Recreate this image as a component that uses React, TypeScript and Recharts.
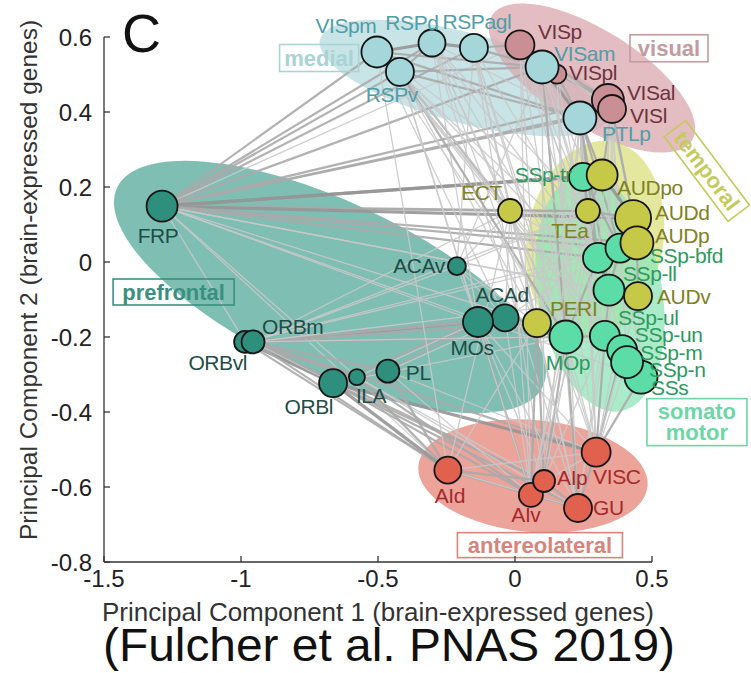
import React from "react";
import {
  ScatterChart,
  Scatter,
  XAxis,
  YAxis,
  ReferenceArea,
  ReferenceLine,
  ReferenceDot,
} from "recharts";

// Cortical areas in drawing order (later ones are drawn on top)
const regions = [
  "FRP", "ACAv", "ORBvl", "ORBm", "ILA", "ORBl", "PL", "ACAd", "MOs",
  "SSp-tr", "SSp-ll", "SSp-bfd", "SSp-ul", "MOp", "SSp-un", "SSs", "SSp-m", "SSp-n",
  "ECT", "TEa", "AUDpo", "AUDd", "AUDp", "AUDv", "PERI",
  "VISp", "VISpl", "VISal", "VISl",
  "RSPv", "VISpm", "RSPd", "RSPagl", "VISam", "PTLp",
  "AId", "AIv", "AIp", "VISC", "GU",
];

const regionGroup = [
  "prefrontal", "prefrontal", "prefrontal", "prefrontal", "prefrontal", "prefrontal", "prefrontal", "prefrontal", "prefrontal",
  "somatomotor", "somatomotor", "somatomotor", "somatomotor", "somatomotor", "somatomotor", "somatomotor", "somatomotor", "somatomotor",
  "temporal", "temporal", "temporal", "temporal", "temporal", "temporal", "temporal",
  "visual", "visual", "visual", "visual",
  "medial", "medial", "medial", "medial", "medial", "medial",
  "antereolateral", "antereolateral", "antereolateral", "antereolateral", "antereolateral",
];

// Principal component scores (brain-expressed genes)
const pc1 = [
  -1.288, -0.212, -0.985, -0.956, -0.577, -0.664, -0.464, -0.036, -0.135,
  0.248, 0.303, 0.383, 0.343, 0.186, 0.328, 0.46, 0.391, 0.409,
  -0.018, 0.266, 0.318, 0.431, 0.445, 0.449, 0.08,
  0.018, 0.153, 0.339, 0.354,
  -0.42, -0.504, -0.303, -0.15, 0.099, 0.237,
  -0.245, 0.058, 0.106, 0.296, 0.23,
];
const pc2 = [
  0.149, -0.011, -0.213, -0.213, -0.307, -0.323, -0.291, -0.149, -0.16,
  0.227, 0.011, 0.037, -0.075, -0.2, -0.197, -0.307, -0.235, -0.267,
  0.136, 0.136, 0.232, 0.117, 0.051, -0.091, -0.163,
  0.579, 0.501, 0.432, 0.408,
  0.507, 0.56, 0.584, 0.571, 0.52, 0.384,
  -0.555, -0.621, -0.584, -0.507, -0.656,
];
// marker radius per area
const markerSize = [
  15.5, 9, 11, 11.5, 8, 14, 11.5, 13.5, 15,
  14, 15, 14.5, 15.5, 16.5, 15, 16.5, 15, 16,
  12, 12, 15.5, 18, 16.5, 14, 14,
  14.5, 9.5, 16, 14,
  14, 15.5, 13.5, 14, 16.5, 16.5,
  13.5, 12, 11, 14.5, 14,
];

const xTicks = [-1.5, -1, -0.5, 0, 0.5];
const yTicks = [-0.8, -0.6, -0.4, -0.2, 0, 0.2, 0.4, 0.6];

// Correlation network edges: [from, to, strength 1..3]
const edges: [string, string, number][] = [
  ["FRP", "VISpm", 2], ["FRP", "RSPv", 2], ["FRP", "RSPd", 2], ["FRP", "RSPagl", 2], ["FRP", "VISp", 1],
  ["FRP", "VISam", 2], ["FRP", "PTLp", 2], ["FRP", "VISal", 2], ["FRP", "VISl", 2], ["FRP", "SSp-tr", 3],
  ["FRP", "AUDpo", 3], ["FRP", "TEa", 2], ["FRP", "ECT", 2], ["FRP", "AUDd", 3], ["FRP", "AUDp", 2],
  ["FRP", "SSp-bfd", 2], ["FRP", "SSp-ll", 2], ["FRP", "SSp-ul", 1], ["FRP", "AUDv", 1], ["FRP", "MOs", 1],
  ["FRP", "PERI", 1], ["FRP", "SSs", 1], ["FRP", "ORBvl", 1], ["FRP", "AId", 1], ["FRP", "ILA", 1],
  ["ORBm", "ORBl", 3], ["ORBvl", "ORBl", 3], ["ORBm", "ILA", 2], ["ORBvl", "ILA", 2], ["ORBl", "ILA", 3],
  ["ILA", "PL", 2], ["ORBl", "PL", 2], ["ORBm", "PL", 2], ["PL", "MOs", 2], ["ACAv", "ACAd", 1],
  ["ACAv", "MOs", 1], ["ORBm", "MOs", 3], ["ORBvl", "MOs", 2], ["ORBm", "ACAd", 2], ["ORBm", "ACAv", 1],
  ["ORBl", "MOs", 2], ["ILA", "MOs", 1], ["PL", "ACAd", 1], ["MOs", "ACAd", 3],
  ["ORBm", "PERI", 2], ["ORBm", "MOp", 2], ["ORBm", "SSp-un", 1], ["ORBm", "AUDv", 1], ["ORBm", "TEa", 1],
  ["ORBm", "ECT", 1], ["ORBvl", "SSp-ll", 1], ["ORBvl", "AUDp", 1], ["ORBm", "AId", 2], ["ORBvl", "AId", 2],
  ["ORBm", "AIp", 2], ["ORBm", "VISC", 2], ["ORBm", "GU", 1], ["ORBl", "AId", 3], ["ORBl", "AIv", 2],
  ["ORBl", "AIp", 2], ["ORBl", "GU", 2], ["ORBl", "VISC", 3], ["ORBl", "MOp", 1], ["ILA", "AId", 2],
  ["ILA", "AIv", 2], ["ILA", "GU", 1], ["ILA", "AIp", 1], ["PL", "AId", 2], ["PL", "AIv", 1],
  ["PL", "VISC", 1], ["MOs", "PERI", 2], ["MOs", "MOp", 2], ["MOs", "SSp-un", 1], ["MOs", "AIv", 2],
  ["MOs", "AIp", 1], ["MOs", "GU", 1], ["MOs", "VISC", 1], ["ACAd", "PERI", 2], ["ACAd", "MOp", 1],
  ["ACAd", "ECT", 1], ["ACAd", "AIv", 1], ["ACAv", "ECT", 1], ["ACAv", "PERI", 1], ["ACAv", "VISam", 1],
  ["ACAv", "RSPagl", 1], ["ACAv", "TEa", 1], ["MOs", "RSPv", 1], ["ACAd", "VISpm", 1], ["MOs", "RSPd", 1],
  ["ACAd", "SSp-ll", 1], ["ACAd", "TEa", 1],
  ["VISpm", "RSPv", 3], ["VISpm", "RSPd", 3], ["RSPv", "RSPd", 2], ["RSPd", "RSPagl", 3], ["RSPagl", "VISp", 2],
  ["RSPagl", "VISam", 2], ["VISpm", "VISam", 2], ["VISp", "VISam", 3], ["VISam", "VISpl", 3], ["VISpl", "VISal", 2],
  ["VISal", "VISl", 3], ["VISl", "PTLp", 3], ["VISam", "PTLp", 3], ["VISp", "VISal", 2], ["VISp", "VISl", 1],
  ["RSPv", "PTLp", 2], ["VISpm", "PTLp", 2], ["RSPd", "PTLp", 1], ["VISpl", "PTLp", 2], ["RSPv", "VISam", 2],
  ["PTLp", "SSp-tr", 2], ["PTLp", "AUDpo", 2], ["VISl", "AUDpo", 2], ["VISal", "AUDd", 1], ["VISl", "AUDd", 2],
  ["PTLp", "SSp-bfd", 2], ["PTLp", "SSp-ll", 2], ["PTLp", "MOp", 1], ["PTLp", "TEa", 1], ["PTLp", "VISC", 1],
  ["PTLp", "SSp-ul", 2], ["VISl", "SSp-ll", 1], ["VISal", "SSp-bfd", 1], ["VISp", "TEa", 1], ["VISp", "SSp-ll", 1],
  ["VISp", "PERI", 1], ["VISam", "SSp-bfd", 1], ["VISam", "TEa", 1], ["VISam", "AIp", 1], ["VISpl", "MOp", 1],
  ["VISpl", "SSp-un", 1], ["RSPv", "ECT", 2], ["RSPd", "ECT", 1], ["RSPagl", "ECT", 1], ["VISpm", "TEa", 1],
  ["RSPd", "TEa", 1], ["RSPv", "PERI", 1], ["VISpm", "MOp", 1], ["RSPd", "MOp", 1], ["RSPagl", "SSp-ll", 1],
  ["RSPagl", "MOp", 1], ["RSPd", "SSp-un", 1], ["VISpm", "SSp-ll", 1], ["RSPv", "AIv", 1], ["RSPd", "GU", 1],
  ["RSPagl", "AIp", 1], ["VISpm", "AId", 1], ["RSPv", "SSp-m", 1], ["VISp", "SSp-ul", 1], ["VISal", "SSs", 1],
  ["VISl", "SSp-n", 1], ["VISpm", "ECT", 1], ["RSPagl", "PERI", 1], ["VISp", "MOp", 1], ["VISam", "SSp-ul", 1],
  ["VISam", "GU", 1], ["RSPagl", "VISC", 1], ["RSPv", "MOp", 2], ["VISpm", "SSp-un", 1], ["RSPd", "PERI", 1],
  ["RSPagl", "GU", 1], ["VISp", "AIv", 1], ["VISam", "MOp", 2], ["VISam", "VISC", 1], ["VISpl", "GU", 1],
  ["RSPv", "SSp-ul", 1], ["RSPd", "SSp-ll", 1], ["VISpm", "SSp-m", 1], ["VISp", "SSp-un", 1], ["VISal", "SSp-ul", 1],
  ["PTLp", "PERI", 1], ["PTLp", "AIp", 1], ["VISl", "SSp-ul", 1],
  ["SSp-tr", "AUDpo", 3], ["SSp-tr", "TEa", 2], ["AUDpo", "AUDd", 3], ["AUDpo", "TEa", 2], ["AUDd", "AUDp", 3],
  ["AUDp", "SSp-bfd", 3], ["SSp-bfd", "SSp-ll", 3], ["SSp-ll", "SSp-ul", 3], ["SSp-ul", "AUDv", 3], ["AUDv", "AUDp", 2],
  ["SSp-ul", "SSp-un", 2], ["SSp-un", "SSp-m", 3], ["SSp-m", "SSp-n", 3], ["SSp-n", "SSs", 3], ["MOp", "SSp-un", 2],
  ["MOp", "PERI", 2], ["PERI", "ECT", 1], ["ECT", "TEa", 2], ["TEa", "AUDd", 2], ["TEa", "SSp-bfd", 1],
  ["TEa", "SSp-ll", 2], ["ECT", "SSp-ll", 1], ["ECT", "MOp", 1], ["SSp-tr", "SSp-ll", 2], ["SSp-tr", "PERI", 1],
  ["AUDpo", "MOp", 1], ["AUDd", "SSp-un", 1], ["SSp-ll", "MOp", 2], ["SSp-bfd", "SSp-ul", 2], ["AUDv", "SSs", 1],
  ["MOp", "SSp-m", 1], ["SSp-ul", "SSp-m", 1], ["TEa", "PERI", 1], ["ECT", "AUDd", 1], ["SSp-tr", "SSp-bfd", 2],
  ["PERI", "AIp", 2], ["PERI", "AIv", 2], ["PERI", "GU", 1], ["PERI", "AId", 1], ["MOp", "AIp", 2],
  ["MOp", "GU", 2], ["MOp", "VISC", 1], ["MOp", "AIv", 1], ["SSp-un", "VISC", 2], ["SSp-m", "VISC", 2],
  ["SSs", "VISC", 2], ["SSp-n", "GU", 1], ["AUDv", "VISC", 1], ["SSp-ul", "GU", 1], ["TEa", "AIv", 1],
  ["SSp-tr", "VISC", 1], ["AUDpo", "AIp", 1], ["ECT", "AId", 1], ["SSp-ll", "AIv", 1], ["SSp-bfd", "GU", 1],
  ["AUDp", "VISC", 1], ["ECT", "GU", 1], ["TEa", "VISC", 1], ["SSp-un", "AIp", 1], ["ECT", "AIv", 1],
  ["ECT", "VISC", 1],
  ["AId", "AIv", 2], ["AId", "AIp", 2], ["AIv", "AIp", 3], ["AIp", "GU", 2], ["AIv", "GU", 2],
  ["GU", "VISC", 2], ["AIp", "VISC", 1], ["AId", "VISC", 1], ["AId", "GU", 1],
];

// Module ellipses in data units: centre and two conjugate semi-axes
const ellipseGroups = ["prefrontal", "medial", "visual", "temporal", "somatomotor", "antereolateral"];
const ellipseCentre: Record<string, [number, number]> = {
  prefrontal: [-0.6752, -0.0667],
  medial: [-0.1825, 0.4907],
  visual: [0.281, 0.4907],
  temporal: [0.292, 0.0587],
  somatomotor: [0.3102, -0.0827],
  antereolateral: [0.0657, -0.5707],
};
const ellipseAxisA: Record<string, [number, number]> = {
  prefrontal: [0.7774, -0.2648],
  medial: [0.5288, -0.1035],
  visual: [0.3653, -0.1667],
  temporal: [-0.0635, -0.2627],
  somatomotor: [0.076, -0.3152],
  antereolateral: [0.4182, -0.0267],
};
const ellipseAxisB: Record<string, [number, number]> = {
  prefrontal: [-0.1325, -0.2077],
  medial: [-0.0425, -0.1159],
  visual: [-0.0928, -0.1085],
  temporal: [-0.2445, 0.0315],
  somatomotor: [-0.2229, -0.0287],
  antereolateral: [-0.0178, -0.1488],
};

// Module name tags, anchored in data units
const tagGroups = ["medial", "visual", "temporal", "prefrontal", "somatomotor", "antereolateral"];
const tagLines: Record<string, string[]> = {
  medial: ["medial"],
  visual: ["visual"],
  temporal: ["temporal"],
  prefrontal: ["prefrontal"],
  somatomotor: ["somato", "motor"],
  antereolateral: ["antereolateral"],
};
const tagAt: Record<string, [number, number]> = {
  medial: [-0.715, 0.544],
  visual: [0.562, 0.57],
  temporal: [0.7, 0.243],
  prefrontal: [-1.246, -0.08],
  somatomotor: [0.664, -0.427],
  antereolateral: [0.091, -0.755],
};

// ---- styling ----
const FONT = "'Liberation Sans', Arial, Helvetica, sans-serif";

const ellipseFill: Record<string, string> = {
  prefrontal: "#5aac9d",
  medial: "#b8dde0",
  visual: "#dbabb0",
  temporal: "#dde283",
  somatomotor: "#92e5ba",
  antereolateral: "#e7897d",
};
const nodeFill: Record<string, string> = {
  prefrontal: "#2e8f7d",
  medial: "#a4d6da",
  visual: "#c98f95",
  temporal: "#c6c847",
  somatomotor: "#5cdca7",
  antereolateral: "#e0614e",
};
const nodeText: Record<string, string> = {
  prefrontal: "#1f4d46",
  medial: "#4f9ea8",
  visual: "#6e3340",
  temporal: "#7f8122",
  somatomotor: "#2d9a5e",
  antereolateral: "#a52a2a",
};
const tagColor: Record<string, string> = {
  medial: "#aad3d5",
  visual: "#c39ba0",
  temporal: "#c4cb5a",
  prefrontal: "#3a9080",
  somatomotor: "#6cd7a6",
  antereolateral: "#d8847b",
};
// tag box: width, height, rotation
const tagBox: Record<string, [number, number, number]> = {
  medial: [79, 27, 0],
  visual: [78, 27, 0],
  temporal: [106, 27, 53],
  prefrontal: [121, 26, 0],
  somatomotor: [100, 47, 0],
  antereolateral: [165, 25, 0],
};
const edgeStyle: Record<number, [string, number]> = {
  1: ["#c9c9c9", 1.3],
  2: ["#aaaaaa", 2.2],
  3: ["#969696", 3.2],
};
// label offset from marker centre in px: dx, dy, anchor
const labelPlacement: Record<string, [number, number, "start" | "middle" | "end"]> = {
  FRP: [-4, 29, "middle"],
  ACAv: [-12, -1, "end"],
  ORBvl: [2, 21, "end"],
  ORBm: [9, -15, "start"],
  ILA: [-1, 18, "start"],
  ORBl: [0, 23, "end"],
  PL: [18, 1, "start"],
  ACAd: [-3, -23, "middle"],
  MOs: [-6, 25, "middle"],
  "SSp-tr": [-11, -2, "end"],
  "SSp-ll": [25, 16, "start"],
  "SSp-bfd": [30, 7, "start"],
  "SSp-ul": [9, 27, "start"],
  MOp: [2, 25, "middle"],
  "SSp-un": [30, -1, "start"],
  SSs: [10, 10, "start"],
  "SSp-m": [18, 2, "start"],
  "SSp-n": [22, 7, "start"],
  ECT: [-8, -19, "end"],
  TEa: [-18, 19, "middle"],
  AUDpo: [15, 12, "start"],
  AUDd: [22, -6, "start"],
  AUDp: [18, -7, "start"],
  AUDv: [19, 0, "start"],
  PERI: [13, -15, "start"],
  VISp: [18, -13, "start"],
  VISpl: [12, -2, "start"],
  VISal: [19, -8, "start"],
  VISl: [18, 6, "start"],
  RSPv: [-8, 23, "middle"],
  VISpm: [-31, -27, "middle"],
  RSPd: [-20, -21, "middle"],
  RSPagl: [3, -26, "middle"],
  VISam: [12, -14, "start"],
  PTLp: [22, 15, "start"],
  AId: [2, 25, "middle"],
  AIv: [-5, 20, "middle"],
  AIp: [13, -4, "start"],
  VISC: [-3, 24, "start"],
  GU: [15, -1, "start"],
};

const nodes = regions.map((name, i) => ({
  name,
  group: regionGroup[i],
  x: pc1[i],
  y: pc2[i],
  size: markerSize[i],
}));
const nodeIndex: Record<string, number> = {};
regions.forEach((r, i) => (nodeIndex[r] = i));

// ellipse bounding box half-extent in data units
const halfExtent = (g: string) => {
  const a = ellipseAxisA[g];
  const b = ellipseAxisB[g];
  return [Math.hypot(a[0], b[0]), Math.hypot(a[1], b[1])];
};

// The area rect is the ellipse's bounding box in pixels; map the axes into it
const EllipseShape = (props: any) => {
  const { x, y, width, height, group } = props;
  if (x == null || !isFinite(width)) return null;
  const [hw, hh] = halfExtent(group);
  const kx = width / (2 * hw);
  const ky = height / (2 * hh);
  const a = ellipseAxisA[group];
  const b = ellipseAxisB[group];
  const m = [a[0] * kx, -a[1] * ky, b[0] * kx, -b[1] * ky, x + width / 2, y + height / 2];
  return (
    <ellipse
      cx={0}
      cy={0}
      rx={1}
      ry={1}
      transform={`matrix(${m.join(" ")})`}
      fill={ellipseFill[group]}
      fillOpacity={0.78}
      stroke="none"
    />
  );
};

const NodeDot = (props: any) => {
  const { cx, cy, payload } = props;
  if (cx == null || cy == null) return null;
  return (
    <circle
      cx={cx}
      cy={cy}
      r={payload.size}
      fill={nodeFill[payload.group]}
      stroke="#151515"
      strokeWidth={1.8}
    />
  );
};

const NodeLabel = (props: any) => {
  const { cx, cy, payload } = props;
  if (cx == null || cy == null) return null;
  const [dx, dy, anchor] = labelPlacement[payload.name] || [0, 20, "middle"];
  return (
    <text
      x={cx + dx}
      y={cy + dy + 7.5}
      textAnchor={anchor}
      fontFamily={FONT}
      fontSize={21}
      letterSpacing={-0.4}
      fill={nodeText[payload.group]}
    >
      {payload.name}
    </text>
  );
};

const TagShape = (props: any) => {
  const { cx, cy, group } = props;
  if (cx == null || cy == null) return null;
  const [w, h, rot] = tagBox[group];
  const lines = tagLines[group];
  const c = tagColor[group];
  return (
    <g transform={`translate(${cx},${cy}) rotate(${rot})`}>
      <rect x={-w / 2} y={-h / 2} width={w} height={h} fill="none" stroke={c} strokeWidth={1.6} />
      {lines.map((t, i) => (
        <text
          key={t}
          x={0}
          y={(i - (lines.length - 1) / 2) * 21 + 7.5}
          textAnchor="middle"
          fontFamily={FONT}
          fontWeight="bold"
          fontSize={22}
          fill={c}
        >
          {t}
        </text>
      ))}
    </g>
  );
};

const XTick = (props: any) => {
  const { x, y, payload } = props;
  return (
    <g>
      <line x1={x} x2={x} y1={y} y2={y - 6} stroke="#333" strokeWidth={1.3} />
      <text x={x} y={y + 25} textAnchor="middle" fontFamily={FONT} fontSize={24} fill="#222">
        {String(payload.value)}
      </text>
    </g>
  );
};

const YTick = (props: any) => {
  const { x, y, payload } = props;
  return (
    <g>
      <line x1={x} x2={x + 6} y1={y} y2={y} stroke="#333" strokeWidth={1.3} />
      <text x={x - 12} y={y + 8.5} textAnchor="end" fontFamily={FONT} fontSize={24} fill="#222">
        {String(payload.value)}
      </text>
    </g>
  );
};

export default function App() {
  return (
    <div style={{ position: "absolute", left: 0, top: 0, width: 751, height: 673, background: "#fff" }}>
      <ScatterChart
        width={751}
        height={673}
        margin={{ top: 37, right: 99, bottom: 81, left: 44 }}
      >
        <XAxis
          type="number"
          dataKey="x"
          domain={[-1.5, 0.5]}
          ticks={xTicks}
          interval={0}
          height={30}
          tickSize={0}
          tickMargin={0}
          tickLine={false}
          tick={<XTick />}
          axisLine={{ stroke: "#333", strokeWidth: 1.3 }}
        />
        <YAxis
          type="number"
          dataKey="y"
          domain={[-0.8, 0.6]}
          ticks={yTicks}
          interval={0}
          width={60}
          tickSize={0}
          tickMargin={0}
          tickLine={false}
          tick={<YTick />}
          axisLine={{ stroke: "#333", strokeWidth: 1.3 }}
        />
        {ellipseGroups.map((g) => {
          const [hw, hh] = halfExtent(g);
          const [cx, cy] = ellipseCentre[g];
          return (
            <ReferenceArea
              key={`ell-${g}`}
              x1={cx - hw}
              x2={cx + hw}
              y1={cy - hh}
              y2={cy + hh}
              ifOverflow="visible"
              shape={(p: any) => <EllipseShape {...p} group={g} />}
            />
          );
        })}
        {edges.map(([a, b, w], i) => {
          const ia = nodeIndex[a];
          const ib = nodeIndex[b];
          const [stroke, sw] = edgeStyle[w];
          return (
            <ReferenceLine
              key={`edge-${i}`}
              segment={[
                { x: pc1[ia], y: pc2[ia] },
                { x: pc1[ib], y: pc2[ib] },
              ]}
              stroke={stroke}
              strokeWidth={sw}
              strokeOpacity={0.9}
              ifOverflow="visible"
            />
          );
        })}
        <Scatter data={nodes} isAnimationActive={false} shape={(p: any) => <NodeDot {...p} />} />
        <Scatter data={nodes} isAnimationActive={false} shape={(p: any) => <NodeLabel {...p} />} />
        {tagGroups.map((g) => (
          <ReferenceDot
            key={`tag-${g}`}
            x={tagAt[g][0]}
            y={tagAt[g][1]}
            ifOverflow="visible"
            shape={(p: any) => <TagShape {...p} group={g} />}
          />
        ))}
      </ScatterChart>
      <svg
        width={751}
        height={673}
        style={{ position: "absolute", left: 0, top: 0, pointerEvents: "none" }}
      >
        <text x={122} y={52} fontFamily={FONT} fontSize={54} fill="#111">
          C
        </text>
        <text
          transform="translate(28,280) rotate(-90)"
          y={8.5}
          textAnchor="middle"
          fontFamily={FONT}
          fontSize={24.5}
          fill="#333"
        >
          Principal Component 2 (brain-expressed genes)
        </text>
        <text x={378} y={621} textAnchor="middle" fontFamily={FONT} fontSize={26} fill="#333">
          Principal Component 1 (brain-expressed genes)
        </text>
        <text
          x={389}
          y={661}
          textAnchor="middle"
          fontFamily={FONT}
          fontSize={46}
          textLength={572}
          lengthAdjust="spacingAndGlyphs"
          fill="#111"
        >
          (Fulcher et al. PNAS 2019)
        </text>
      </svg>
    </div>
  );
}
